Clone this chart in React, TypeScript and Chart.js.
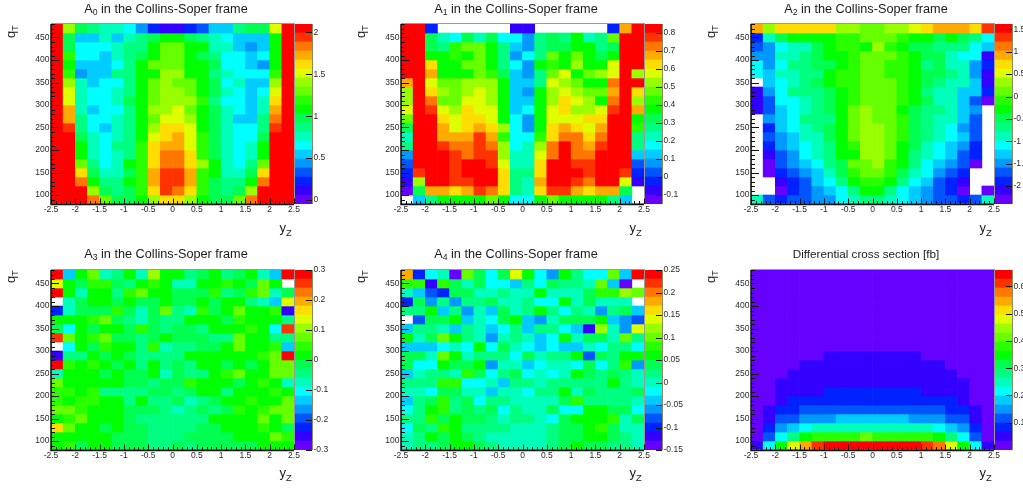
import React, { useEffect, useRef } from "react";
import { Chart, registerables } from "chart.js";

Chart.register(...registerables);

// Rows run from the top bin (460-480) to the bottom bin (80-100); null = blank (out of range) cell.
const N = null;
const yzEdges = [-2.5, -2.25, -2, -1.75, -1.5, -1.25, -1, -0.75, -0.5, -0.25, 0, 0.25, 0.5, 0.75, 1, 1.25, 1.5, 1.75, 2, 2.25, 2.5];
const qtEdges = [480, 460, 440, 420, 400, 380, 360, 340, 320, 300, 280, 260, 240, 220, 200, 180, 160, 140, 120, 100, 80];
const xTickValues = [-2.5, -2, -1.5, -1, -0.5, 0, 0.5, 1, 1.5, 2, 2.5];
const yTickValues = [100, 150, 200, 250, 300, 350, 400, 450];

const a0Bins = [
  [19,13,9,8,7,7,6,4,2,1,1,2,3,5,5,8,9,9,14,19],
  [19,9,5,5,7,5,7,8,9,10,10,9,8,7,6,5,5,5,10,19],
  [19,9,6,6,6,7,8,8,10,12,12,10,10,7,7,5,4,5,10,19],
  [19,11,6,6,5,7,8,9,10,12,12,10,9,8,6,6,5,6,10,19],
  [19,10,5,5,5,6,8,10,12,12,12,10,10,9,6,6,5,4,10,19],
  [19,11,4,5,5,8,8,10,10,13,13,10,10,8,7,6,6,6,11,19],
  [19,13,7,5,6,6,8,10,12,13,12,12,10,9,6,7,5,5,13,19],
  [19,14,7,6,6,7,8,10,12,13,13,12,10,9,7,6,5,6,14,19],
  [19,14,7,6,6,7,9,10,12,13,13,13,11,8,6,6,5,7,15,19],
  [19,16,7,5,6,6,8,10,13,13,14,12,10,9,7,6,5,7,16,19],
  [19,16,8,6,6,7,8,10,12,14,14,13,10,9,7,5,5,8,17,19],
  [19,18,8,6,5,7,8,10,13,15,15,14,10,9,7,6,6,8,18,19],
  [19,19,9,7,6,7,8,10,14,15,16,14,11,9,7,6,6,9,19,19],
  [19,19,10,7,6,8,8,11,15,16,16,14,11,9,7,6,7,10,19,19],
  [19,19,10,7,6,7,8,11,15,17,17,15,11,9,7,6,7,10,19,19],
  [19,19,12,8,6,7,10,11,15,17,17,15,13,10,7,6,8,12,19,19],
  [19,19,15,9,7,7,9,11,16,18,18,16,11,10,7,7,9,15,19,19],
  [19,19,17,10,8,8,10,11,16,18,18,16,11,9,8,8,10,17,19,19],
  [19,19,19,13,9,8,9,11,15,18,17,15,11,9,8,9,13,19,19,19],
  [19,19,19,17,12,9,9,10,13,15,15,13,10,9,9,12,17,19,19,19],
];

const a1Bins = [
  [19,19,2,N,N,N,N,N,N,1,1,N,N,N,N,N,N,2,16,19],
  [19,19,9,7,6,9,7,9,6,6,4,8,9,8,10,7,8,12,19,19],
  [19,19,9,8,11,12,12,10,8,5,4,8,9,9,10,10,8,9,19,19],
  [19,19,10,10,11,10,12,10,8,4,6,8,12,10,12,10,9,10,19,19],
  [19,19,15,10,10,12,12,10,8,6,4,10,11,10,13,10,10,14,19,19],
  [19,19,16,10,10,10,12,11,9,5,4,8,12,14,10,12,13,14,19,13],
  [16,19,14,12,12,13,13,13,10,5,5,8,14,13,12,10,10,17,19,19],
  [13,19,15,13,12,13,14,13,10,5,4,10,13,14,13,12,12,16,19,15],
  [13,19,17,12,12,14,14,13,10,5,5,10,13,15,14,13,10,17,19,13],
  [14,19,18,14,13,15,14,14,10,5,6,10,14,15,13,13,14,18,19,16],
  [12,19,19,15,14,15,15,14,10,6,4,10,14,14,14,15,15,19,19,10],
  [9,19,19,16,14,15,16,15,13,6,4,10,15,16,15,14,16,19,19,11],
  [7,19,19,16,16,16,18,16,11,6,6,11,15,17,17,15,17,19,19,8],
  [8,19,19,18,17,17,18,17,13,6,7,13,17,19,17,16,18,19,19,8],
  [4,19,19,19,18,17,18,18,13,7,7,14,17,19,17,17,19,19,19,5],
  [3,19,19,19,18,19,19,18,14,7,7,15,19,19,18,18,19,19,19,3],
  [2,18,19,19,18,19,19,19,15,8,8,15,19,19,19,18,19,19,18,2],
  [1,13,19,19,18,18,19,19,15,8,7,16,19,19,18,17,19,19,14,1],
  [0,9,16,16,15,16,18,17,15,8,7,15,18,18,16,15,16,16,9,N],
  [N,5,8,10,10,10,10,12,10,6,6,10,12,10,10,10,10,8,5,N],
];

const a2Bins = [
  [16,13,15,15,15,15,15,13,13,12,12,13,13,14,15,16,16,16,15,18],
  [2,7,9,10,10,10,10,11,11,12,12,12,11,10,10,9,10,9,8,6],
  [3,4,6,7,7,9,10,11,11,10,13,11,10,9,9,8,8,8,6,5],
  [4,4,7,7,8,9,10,10,11,12,12,12,11,10,9,9,7,6,6,1],
  [6,4,6,8,8,9,9,10,11,12,12,11,11,10,8,9,7,7,4,2],
  [6,5,7,7,8,8,10,11,11,12,12,11,11,10,9,9,8,7,4,1],
  [N,5,6,7,8,9,10,11,11,12,12,12,11,10,9,8,7,7,5,1],
  [1,4,6,8,8,8,9,10,11,12,12,12,11,10,8,7,7,5,5,2],
  [1,3,6,6,7,8,9,10,11,12,12,12,11,10,9,7,7,5,3,0],
  [1,3,5,6,7,8,9,10,12,13,12,12,10,9,8,8,7,5,4,N],
  [N,4,5,6,8,8,8,10,12,13,12,12,11,9,8,7,7,5,3,N],
  [N,2,5,6,7,8,9,10,12,13,13,12,11,9,8,7,6,4,3,N],
  [N,3,4,5,7,7,9,10,12,13,13,12,11,9,8,7,6,5,3,N],
  [N,2,4,5,6,7,8,10,11,13,13,12,10,9,7,6,5,4,2,N],
  [N,1,3,4,6,7,8,10,10,13,13,12,10,8,7,6,5,3,2,N],
  [N,0,3,4,5,6,8,9,12,12,13,11,10,8,6,5,4,3,0,N],
  [N,0,2,3,4,5,7,9,11,12,12,11,9,7,6,4,3,2,N,N],
  [N,N,1,2,3,5,6,8,10,11,11,10,8,6,5,3,2,1,N,N],
  [N,N,0,2,3,4,5,6,8,10,10,8,6,5,4,3,2,0,N,0],
  [7,3,2,3,3,4,4,6,7,8,8,7,6,5,4,3,3,2,3,7],
];

const a3Bins = [
  [19,5,10,12,7,8,10,7,13,10,10,8,9,10,8,9,10,7,5,19],
  [14,10,9,11,11,9,8,10,11,10,7,7,10,10,11,10,9,12,10,N],
  [19,10,7,10,10,8,11,12,10,10,9,9,9,11,8,9,11,12,7,9],
  [N,7,9,10,10,9,10,9,9,10,9,9,10,9,10,10,8,7,5,14],
  [2,7,9,9,9,11,9,7,9,12,8,7,11,9,10,12,10,10,11,1],
  [10,10,10,11,12,9,8,7,9,8,8,10,10,10,9,11,10,10,10,8],
  [9,6,10,9,10,10,9,11,9,8,9,9,8,10,10,10,11,10,6,18],
  [18,12,10,11,12,9,9,8,9,10,9,9,9,8,8,12,10,10,8,8],
  [N,6,10,9,11,10,10,8,11,7,8,8,9,9,10,12,10,10,11,5],
  [1,8,8,10,9,10,9,8,8,8,8,10,10,10,10,10,10,11,12,19],
  [19,11,10,11,10,9,10,8,10,8,9,8,10,10,9,10,9,10,12,12],
  [7,10,10,10,9,10,9,9,10,7,9,8,8,10,11,12,10,10,12,12],
  [12,10,10,10,10,10,9,9,8,9,9,11,10,10,10,9,10,11,10,7],
  [11,11,10,11,8,8,8,8,9,9,8,9,10,10,8,10,10,10,11,10],
  [11,10,11,11,10,10,8,10,8,8,9,7,8,9,10,10,11,10,10,12],
  [12,12,11,10,10,10,9,9,9,8,7,8,9,8,9,11,10,11,12,12],
  [10,11,12,10,10,10,9,8,8,8,8,8,8,10,10,10,10,12,10,12],
  [15,12,10,10,9,10,9,9,8,8,8,8,9,9,10,10,10,11,10,9],
  [10,10,10,10,10,9,9,9,8,8,8,9,9,9,9,10,10,10,12,11],
  [10,11,9,10,10,9,9,9,8,8,9,8,9,9,9,9,9,10,10,10],
];

const a4Bins = [
  [16,2,6,7,0,12,9,6,9,14,10,6,4,10,8,6,6,12,5,19],
  [11,11,1,11,9,7,9,6,6,5,8,6,9,8,8,7,12,5,0,N],
  [7,5,3,2,9,9,7,7,8,7,7,10,7,7,7,9,11,11,13,12],
  [2,9,4,8,4,8,8,9,7,7,8,6,6,10,7,9,7,7,7,N],
  [8,8,10,5,8,4,7,5,9,7,8,10,8,6,8,7,4,8,9,5],
  [N,3,9,9,10,5,7,6,9,10,5,4,7,9,9,9,10,5,4,3],
  [5,8,8,7,5,8,7,5,6,8,5,8,8,6,5,1,13,7,4,14],
  [10,7,9,12,10,8,7,4,7,8,7,5,6,10,7,9,9,7,12,8],
  [5,5,5,6,7,6,10,6,9,7,6,5,6,5,5,7,6,8,8,6],
  [9,9,7,12,10,7,8,8,8,6,9,7,8,8,10,3,9,8,10,10],
  [9,6,6,10,9,9,10,4,7,7,5,6,7,7,6,9,6,8,11,4],
  [5,7,8,8,7,11,9,6,8,9,6,7,6,7,10,9,8,9,8,7],
  [8,8,8,11,11,6,6,7,5,8,8,7,8,8,8,8,8,10,8,7],
  [7,7,6,9,9,7,7,5,7,7,6,8,8,10,7,9,8,8,8,9],
  [5,8,9,11,8,9,6,8,8,7,7,7,7,9,11,8,8,8,8,7],
  [6,8,10,11,8,9,8,9,6,8,7,7,9,6,6,10,10,9,9,6],
  [8,8,11,9,10,9,9,8,7,8,8,7,6,9,10,10,10,11,7,9],
  [6,9,8,11,10,8,8,8,8,7,7,7,8,9,9,10,11,9,7,7],
  [7,8,10,9,10,9,8,7,7,7,7,7,8,9,9,10,10,9,8,7],
  [7,8,8,9,10,10,9,8,7,7,7,7,8,9,10,9,9,8,8,7],
];

const sigmaBins = [
  [0,0,0,0,0,0,0,0,0,0,0,0,0,0,0,0,0,0,0,0],
  [0,0,0,0,0,0,0,0,0,0,0,0,0,0,0,0,0,0,0,0],
  [0,0,0,0,0,0,0,0,0,0,0,0,0,0,0,0,0,0,0,0],
  [0,0,0,0,0,0,0,0,0,0,0,0,0,0,0,0,0,0,0,0],
  [0,0,0,0,0,0,0,0,0,0,0,0,0,0,0,0,0,0,0,0],
  [0,0,0,0,0,0,0,0,0,0,0,0,0,0,0,0,0,0,0,0],
  [0,0,0,0,0,0,0,0,0,0,0,0,0,0,0,0,0,0,0,0],
  [0,0,0,0,0,0,0,0,0,0,0,0,0,0,0,0,0,0,0,0],
  [0,0,0,0,0,0,0,0,0,0,0,0,0,0,0,0,0,0,0,0],
  [0,0,0,0,0,0,1,1,1,1,1,1,1,1,0,0,0,0,0,0],
  [0,0,0,0,1,1,1,1,1,1,1,1,1,1,1,1,0,0,0,0],
  [0,0,0,1,1,1,1,1,1,1,1,1,1,1,1,1,1,0,0,0],
  [0,0,1,1,1,1,1,1,1,1,1,1,1,1,1,1,1,1,0,0],
  [0,0,1,1,1,1,2,2,2,2,2,2,2,2,1,1,1,1,0,0],
  [0,0,1,2,2,2,2,2,2,2,2,2,2,2,2,2,2,1,0,0],
  [0,1,2,2,3,3,3,3,3,3,3,3,3,3,3,3,2,2,1,0],
  [0,1,3,3,4,4,4,5,5,5,5,5,5,4,4,4,3,3,1,0],
  [0,2,4,5,6,7,7,7,7,7,7,7,7,7,7,6,5,4,2,0],
  [0,3,6,8,10,11,11,11,11,12,11,11,11,11,11,10,8,6,3,0],
  [1,6,10,14,16,18,19,19,19,19,19,19,19,19,18,17,14,10,6,1],
];

const a0Ticks = [0, 0.5, 1, 1.5, 2];
const a1Ticks = [-0.1, 0, 0.1, 0.2, 0.3, 0.4, 0.5, 0.6, 0.7, 0.8];
const a2Ticks = [-2, -1.5, -1, -0.5, 0, 0.5, 1, 1.5];
const a3Ticks = [-0.3, -0.2, -0.1, 0, 0.1, 0.2, 0.3];
const a4Ticks = [-0.15, -0.1, -0.05, 0, 0.05, 0.1, 0.15, 0.2, 0.25];
const sigmaTicks = [0.1, 0.2, 0.3, 0.4, 0.5, 0.6];

const palette = [
  "#6600ff", "#3300ff", "#0022ff", "#0055ff", "#0099ff", "#00ccff", "#00ffff", "#00ffbb", "#00ff80", "#00ff50",
  "#00ff00", "#2aff00", "#66ff00", "#99ff00", "#ddff00", "#ffdd00", "#ffaa00", "#ff7700", "#ff3300", "#ff0000",
];

const FONT = "'Liberation Sans', Arial, sans-serif";
const CANVAS_W = 303, CANVAS_H = 245;
const PLOT_L = 51, PLOT_R = 294, PLOT_B_OFF = 180, BAR_LEFT = 295;

type Panel = {
  base: string; sub: string; rest: string; titleSize: number;
  bins: (number | null)[][]; zMin: number; zMax: number; zTicks: number[];
  left: number; top: number; plotTop: number;
};

const panels: Panel[] = [
  { base: "A", sub: "0", rest: " in the Collins-Soper frame", titleSize: 12.7, bins: a0Bins, zMin: -0.048, zMax: 2.1, zTicks: a0Ticks, left: 0, top: 0, plotTop: 24 },
  { base: "A", sub: "1", rest: " in the Collins-Soper frame", titleSize: 12.7, bins: a1Bins, zMin: -0.15, zMax: 0.85, zTicks: a1Ticks, left: 350, top: 0, plotTop: 24 },
  { base: "A", sub: "2", rest: " in the Collins-Soper frame", titleSize: 12.7, bins: a2Bins, zMin: -2.4, zMax: 1.62, zTicks: a2Ticks, left: 700, top: 0, plotTop: 24 },
  { base: "A", sub: "3", rest: " in the Collins-Soper frame", titleSize: 12.7, bins: a3Bins, zMin: -0.3, zMax: 0.3, zTicks: a3Ticks, left: 0, top: 245, plotTop: 25 },
  { base: "A", sub: "4", rest: " in the Collins-Soper frame", titleSize: 12.7, bins: a4Bins, zMin: -0.15, zMax: 0.25, zTicks: a4Ticks, left: 350, top: 245, plotTop: 25 },
  { base: "Differential cross section [fb]", sub: "", rest: "", titleSize: 11.7, bins: sigmaBins, zMin: 0, zMax: 0.66, zTicks: sigmaTicks, left: 700, top: 245, plotTop: 25 },
];

function cellValue(p: Panel, level: number) {
  return p.zMin + ((level + 0.5) * (p.zMax - p.zMin)) / palette.length;
}
function colourFor(p: Panel, value: number) {
  const i = Math.floor(((value - p.zMin) / (p.zMax - p.zMin)) * palette.length);
  return palette[Math.max(0, Math.min(palette.length - 1, i))];
}

const heatDecor = (p: Panel) => ({
  id: "heatDecor",
  afterDraw(chart: any) {
    const { ctx, chartArea: a, scales } = chart;
    ctx.save();
    ctx.strokeStyle = "rgba(110,110,110,0.7)";
    ctx.lineWidth = 1;
    ctx.strokeRect(a.left + 0.5, a.top - 0.5, a.right - a.left, a.bottom - a.top);
    ctx.strokeStyle = "#111";
    ctx.lineWidth = 1;
    ctx.beginPath();
    for (let q = 80; q <= 480; q += 10) {
      const y = Math.round(scales.y.getPixelForValue(q)) + 0.5;
      ctx.moveTo(a.left, y);
      ctx.lineTo(a.left + (q % 50 === 0 ? 8 : 4), y);
    }
    for (let k = -25; k <= 25; k++) {
      const x = Math.round(scales.x.getPixelForValue(k / 10)) + 0.5;
      ctx.moveTo(x, a.bottom);
      ctx.lineTo(x, a.bottom - (k % 5 === 0 ? 5.5 : 3));
    }
    ctx.stroke();
    ctx.strokeStyle = "#111";
    ctx.lineWidth = 1.5;
    ctx.beginPath();
    ctx.moveTo(a.left, a.top);
    ctx.lineTo(a.left, a.bottom + 0.5);
    ctx.lineTo(a.right, a.bottom + 0.5);
    ctx.stroke();

    ctx.fillStyle = "#1a1a1a";
    ctx.textBaseline = "alphabetic";
    const mid = 166;
    const big = `${p.titleSize}px ${FONT}`;
    const small = `${p.titleSize * 0.68}px ${FONT}`;
    ctx.font = big;
    const w1 = ctx.measureText(p.base).width;
    const w3 = ctx.measureText(p.rest).width;
    ctx.font = small;
    const w2 = p.sub ? ctx.measureText(p.sub).width : 0;
    let tx = mid - (w1 + w2 + w3) / 2;
    const ty = 12.5;
    ctx.font = big;
    ctx.fillText(p.base, tx, ty);
    tx += w1;
    ctx.font = small;
    if (p.sub) ctx.fillText(p.sub, tx, ty + 2.5);
    tx += w2;
    ctx.font = big;
    ctx.fillText(p.rest, tx, ty);

    const size = 13;
    ctx.font = `${size}px ${FONT}`;
    ctx.fillText("y", 279.5, 232);
    ctx.font = `${size * 0.72}px ${FONT}`;
    ctx.fillText("Z", 286, 235.5);
    ctx.translate(14.5, 38);
    ctx.rotate(-Math.PI / 2);
    ctx.font = `${size}px ${FONT}`;
    ctx.fillText("q", 0, 0);
    ctx.font = `${size * 0.72}px ${FONT}`;
    ctx.fillText("T", 7, 3.5);
    ctx.restore();
  },
});

const barDecor = {
  id: "barDecor",
  afterDraw(chart: any) {
    const { ctx, chartArea: a, scales } = chart;
    ctx.save();
    ctx.strokeStyle = "rgba(110,110,60,0.8)";
    ctx.lineWidth = 1;
    ctx.beginPath();
    ctx.moveTo(a.right + 0.5, a.top);
    ctx.lineTo(a.right + 0.5, a.bottom);
    ctx.stroke();
    ctx.strokeStyle = "#111";
    ctx.beginPath();
    for (const t of scales.y.ticks) {
      const y = Math.round(scales.y.getPixelForValue(t.value)) + 0.5;
      ctx.moveTo(a.right, y);
      ctx.lineTo(a.right - 6, y);
    }
    ctx.stroke();
    ctx.restore();
  },
};

function heatConfig(p: Panel): any {
  const datasets = p.bins.map((row, r) => {
    const cells = row
      .map((level, c) => ({ level, c }))
      .filter((d) => d.level !== null)
      .map((d) => {
        const v = cellValue(p, d.level as number);
        return { x: (yzEdges[d.c] + yzEdges[d.c + 1]) / 2, y: [qtEdges[r + 1], qtEdges[r]], z: v };
      });
    return {
      label: `qT ${qtEdges[r + 1]}-${qtEdges[r]}`,
      data: cells,
      backgroundColor: cells.map((d) => colourFor(p, d.z)),
      borderWidth: 0,
      grouped: false,
      barPercentage: 1,
      categoryPercentage: 1,
    };
  });
  const tickFont = { family: FONT, size: 8.5 };
  return {
    type: "bar",
    data: { datasets },
    options: {
      animation: false,
      responsive: false,
      devicePixelRatio: 1,
      events: [],
      layout: { padding: { left: 0, top: p.plotTop, right: CANVAS_W - PLOT_R, bottom: 0 } },
      plugins: { legend: { display: false }, tooltip: { enabled: false }, title: { display: false } },
      scales: {
        x: {
          type: "linear",
          offset: false,
          min: -2.5,
          max: 2.5,
          grid: { display: false, drawTicks: false },
          border: { display: false },
          afterBuildTicks: (s: any) => { s.ticks = xTickValues.map((value) => ({ value })); },
          afterFit: (s: any) => { s.height = CANVAS_H - p.plotTop - PLOT_B_OFF; },
          ticks: { autoSkip: false, maxRotation: 0, padding: 0.5, color: "#2a2a2a", font: tickFont, callback: (v: number) => String(v) },
        },
        y: {
          type: "linear",
          min: 80,
          max: 480,
          grid: { display: false, drawTicks: false },
          border: { display: false },
          afterBuildTicks: (s: any) => { s.ticks = yTickValues.map((value) => ({ value })); },
          afterFit: (s: any) => { s.width = PLOT_L; },
          ticks: { autoSkip: false, padding: 1.5, color: "#2a2a2a", font: tickFont, callback: (v: number) => String(v) },
        },
      },
    },
    plugins: [heatDecor(p)],
  };
}

function barConfig(p: Panel): any {
  const dz = (p.zMax - p.zMin) / palette.length;
  const datasets = palette.map((colour, i) => ({
    label: `level ${i}`,
    data: [[p.zMin + i * dz, p.zMin + (i + 1) * dz]],
    backgroundColor: colour,
    borderWidth: 0,
    grouped: false,
    barPercentage: 1,
    categoryPercentage: 1,
  }));
  return {
    type: "bar",
    data: { labels: ["z"], datasets },
    options: {
      animation: false,
      responsive: false,
      devicePixelRatio: 1,
      events: [],
      layout: { padding: { left: 0, top: p.plotTop, right: 0, bottom: CANVAS_H - p.plotTop - PLOT_B_OFF } },
      plugins: { legend: { display: false }, tooltip: { enabled: false }, title: { display: false } },
      scales: {
        x: { display: false },
        y: {
          position: "right",
          type: "linear",
          min: p.zMin,
          max: p.zMax,
          grid: { display: false, drawTicks: false },
          border: { display: false },
          afterBuildTicks: (s: any) => { s.ticks = p.zTicks.map((value) => ({ value })); },
          afterFit: (s: any) => { s.width = 40; },
          ticks: { autoSkip: false, padding: 1.5, color: "#2a2a2a", font: { family: FONT, size: 8.5 }, callback: (v: number) => String(v) },
        },
      },
    },
    plugins: [barDecor],
  };
}

function PanelView({ p }: { p: Panel }) {
  const heatRef = useRef<HTMLCanvasElement>(null);
  const barRef = useRef<HTMLCanvasElement>(null);
  useEffect(() => {
    const c1 = new Chart(heatRef.current as HTMLCanvasElement, heatConfig(p));
    const c2 = new Chart(barRef.current as HTMLCanvasElement, barConfig(p));
    return () => { c1.destroy(); c2.destroy(); };
  }, [p]);
  return (
    <>
      <canvas ref={heatRef} width={CANVAS_W} height={CANVAS_H} style={{ position: "absolute", left: p.left, top: p.top, width: CANVAS_W, height: CANVAS_H }} />
      <canvas ref={barRef} width={57} height={CANVAS_H} style={{ position: "absolute", left: p.left + BAR_LEFT, top: p.top, width: 57, height: CANVAS_H }} />
    </>
  );
}

export default function App() {
  return (
    <div style={{ position: "absolute", left: 0, top: 0, width: 1023, height: 490, overflow: "hidden", background: "#fff", filter: "blur(0.45px)" }}>
      {panels.map((p, i) => <PanelView key={i} p={p} />)}
    </div>
  );
}
